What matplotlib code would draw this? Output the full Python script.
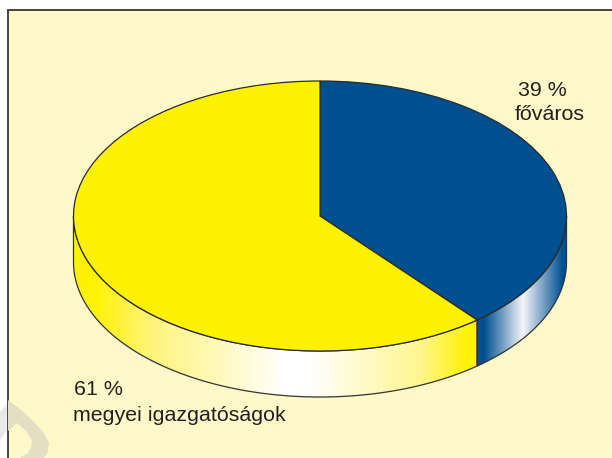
"""Two-slice 3D style pie: budapest vs county offices."""

import matplotlib
matplotlib.use('Agg')
import matplotlib.pyplot as plt
import numpy as np
from matplotlib.colors import LinearSegmentedColormap, to_rgb
from matplotlib.patches import PathPatch, Polygon, Rectangle
from matplotlib.path import Path

shares = [39, 61]
share_labels = ['39 %', '61 %']
names = ['főváros', 'megyei igazgatóságok']

BLUE = '#00508f'
YELLOW = '#fff200'
PAPER = '#fff9c9'
INK = '#231f20'

W, H = 612, 458
CX, CY, RX, RY, DEPTH = 320.0, 216.0, 246.5, 135.0, 46.0

plt.rcParams['font.family'] = ['Liberation Sans', 'DejaVu Sans']


def px(x):
    return (x - CX) / RX


def py(y):
    return (CY - y) / RY


def side_band(a0, a1):
    """Outline of the pie's rim between two angles (deg, clockwise from top)."""
    t = np.radians(np.linspace(a0, a1, 200))
    top = np.column_stack([np.sin(t), np.cos(t)])
    bottom = top[::-1] - [0, DEPTH / RY]
    return np.vstack([top, bottom])


def gradient(ax, x0, x1, stops, outline):
    """Horizontal gradient clipped to the rim polygon."""
    colours = [((x - x0) / (x1 - x0), to_rgb(c)) for x, c in stops]
    cmap = LinearSegmentedColormap.from_list('rim', colours)
    ramp = np.linspace(0, 1, 400).reshape(1, -1)
    im = ax.imshow(ramp, cmap=cmap, aspect='auto', zorder=2, interpolation='bilinear',
                   extent=(px(x0), px(x1), py(H), py(0)))
    poly = Polygon(outline, closed=True, facecolor='none', edgecolor='#333333',
                   linewidth=0.9, zorder=3)
    ax.add_patch(poly)
    im.set_clip_path(poly)


fig = plt.figure(figsize=(W / 100, H / 100), dpi=100, facecolor='white')
ax = fig.add_axes([0, 0, 1, 1])

ax.pie(shares, colors=[BLUE, YELLOW], startangle=90, counterclock=False, radius=1,
       wedgeprops={'edgecolor': '#2a2a2a', 'linewidth': 0.9, 'zorder': 4})
ax.set_aspect('auto')
ax.set_xlim(px(0), px(W))
ax.set_ylim(py(H), py(0))
ax.axis('off')

# paper panel with its frame
ax.add_patch(Rectangle((px(7.5), py(H + 5)), px(W + 5) - px(7.5), py(10.5) - py(H + 5),
                       facecolor=PAPER, edgecolor='#444444', linewidth=1.4, zorder=0))

# faint stamp in the lower left corner, a drop with a hole in it
stamp = [(8, 400), (20, 409), (33, 421), (44, 433), (49, 443), (48, 452), (44, 458), (8, 458)]
hole = [(8, 431), (17, 423), (26, 431), (32, 440), (31, 448), (28, 453), (20, 458), (8, 458)]
hole = hole[::-1]
verts = [(px(x), py(y)) for x, y in stamp + stamp[:1] + hole + hole[:1]]
codes = ([Path.MOVETO] + [Path.LINETO] * (len(stamp) - 1) + [Path.CLOSEPOLY]
         + [Path.MOVETO] + [Path.LINETO] * (len(hole) - 1) + [Path.CLOSEPOLY])
ax.add_patch(PathPatch(Path(verts, codes), facecolor='#e4dfc3', edgecolor='none', zorder=1))
ax.add_patch(Polygon([(px(0), py(412)), (px(6.5), py(404)), (px(6.5), py(431)), (px(0), py(440))],
                     facecolor='#e8e8e8', edgecolor='none', zorder=1))

# rim: only the front half of the disc shows
split = 360 * shares[0] / sum(shares)
gradient(ax, 477, 567, [(477, BLUE), (484, BLUE), (523, '#f4f5fa'), (563, BLUE), (567, BLUE)],
         side_band(90, split))
gradient(ax, 72, 477, [(72, YELLOW), (92, YELLOW), (150, '#fff47a'), (285, '#ffffff'),
                       (310, '#ffffff'), (420, '#fff690'), (470, YELLOW), (477, YELLOW)],
         side_band(split, 270))

text_style = {'fontsize': 15.4, 'color': INK, 'va': 'baseline', 'ha': 'left'}
fig.text(518 / W, 1 - 96 / H, share_labels[0], **text_style)
fig.text(515 / W, 1 - 120 / H, names[0], **text_style)
fig.text(74 / W, 1 - 395 / H, share_labels[1], **text_style)
fig.text(73 / W, 1 - 421 / H, names[1], **text_style)

fig.savefig('out.png', dpi=100, facecolor='white')
plt.close(fig)
